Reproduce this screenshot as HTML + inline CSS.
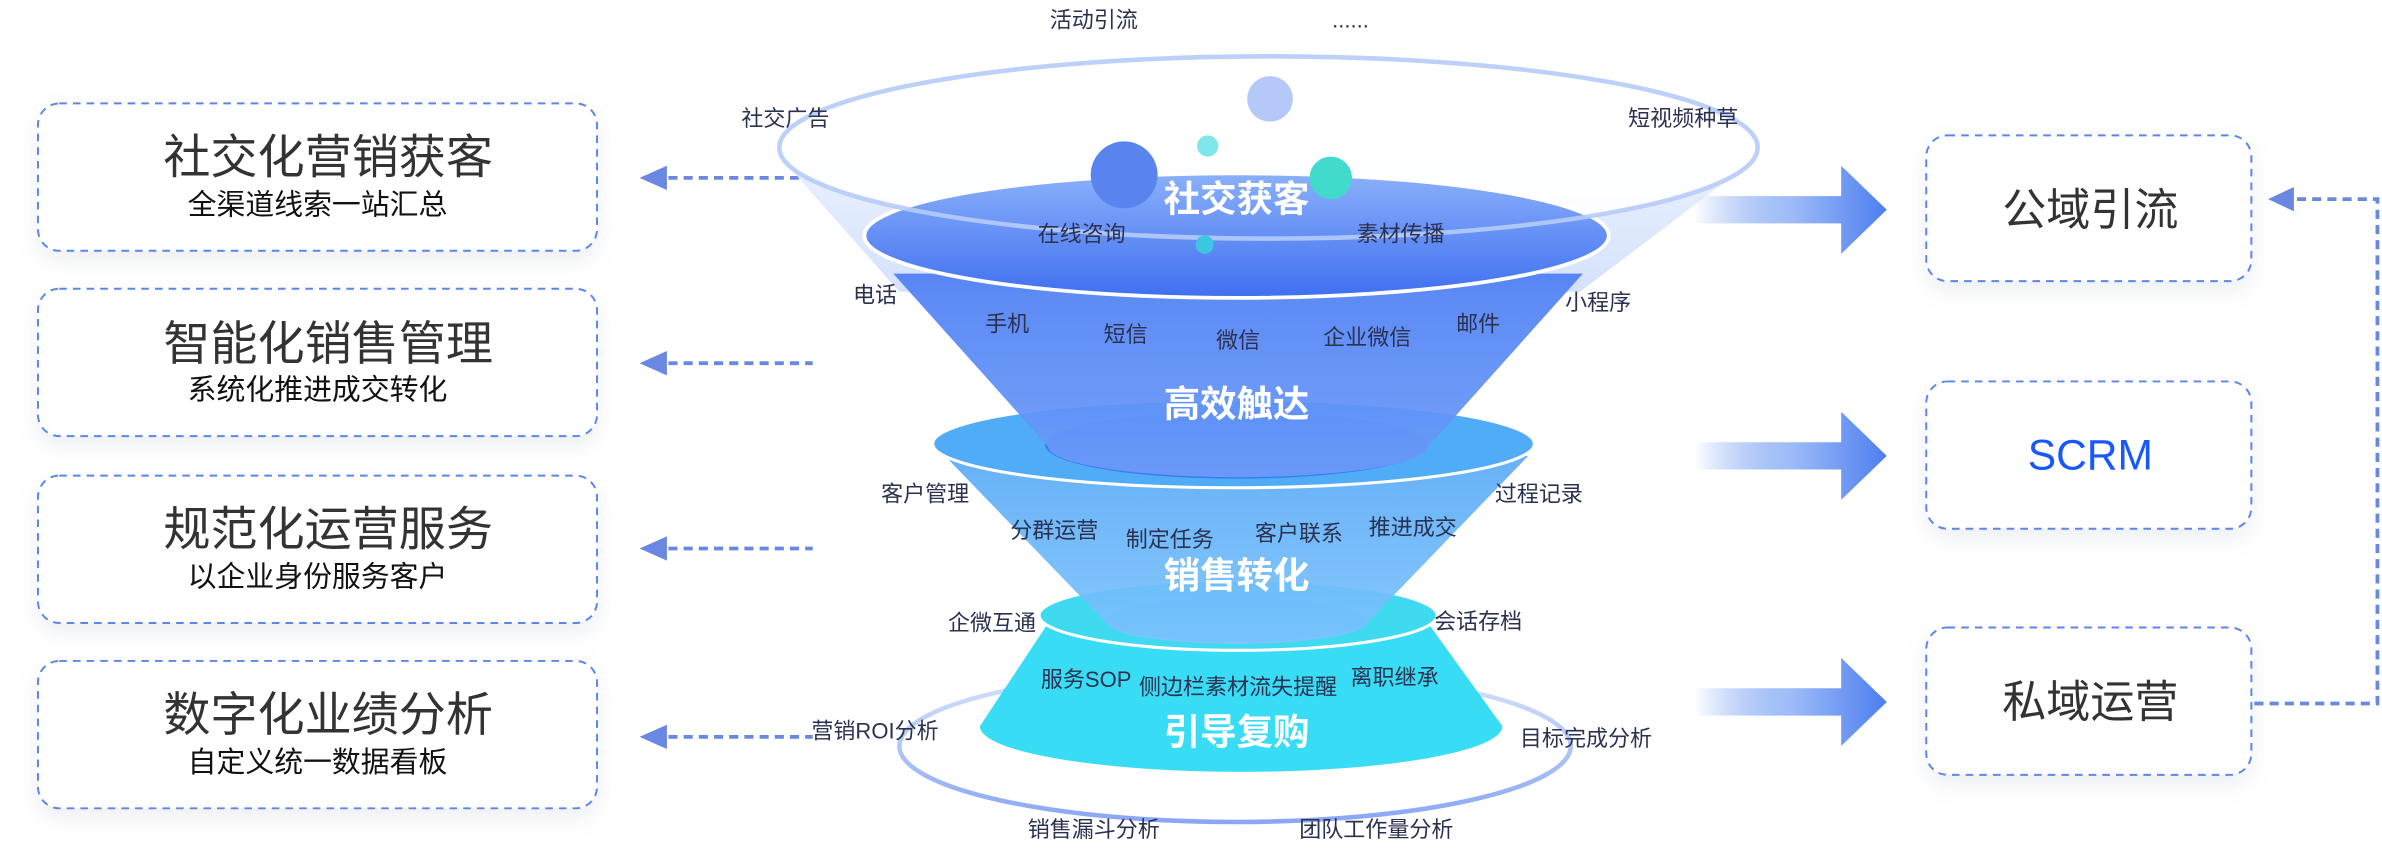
<!DOCTYPE html>
<html><head><meta charset="utf-8"><style>
html,body{margin:0;padding:0;background:#fff;}
svg{display:block;}
text{font-family:"Liberation Sans","Noto Sans CJK SC",sans-serif;}
</style></head><body>
<svg width="2382" height="854" viewBox="0 0 1568 562" xmlns="http://www.w3.org/2000/svg">
<defs>
<filter id="sh" x="-10%" y="-20%" width="120%" height="150%"><feDropShadow dx="0" dy="6" stdDeviation="7" flood-color="#8090b0" flood-opacity="0.15"/></filter>
<linearGradient id="ar" x1="0" x2="1"><stop offset="0" stop-color="#5b8def" stop-opacity="0"/><stop offset="0.5" stop-color="#9ebcf8"/><stop offset="1" stop-color="#4d7ef0"/></linearGradient>
<linearGradient id="e1" x1="0" y1="0" x2="0" y2="1"><stop offset="0" stop-color="#8ab0fa"/><stop offset="1" stop-color="#3f6ff0"/></linearGradient>
<linearGradient id="c1" x1="0" y1="0" x2="0" y2="1"><stop offset="0" stop-color="#4e7ff3"/><stop offset="1" stop-color="#6c9cfa"/></linearGradient>
<linearGradient id="c2" x1="0" y1="0" x2="0" y2="1"><stop offset="0" stop-color="#5aaaf7"/><stop offset="1" stop-color="#7cc4fd"/></linearGradient>
<linearGradient id="top" x1="0" y1="0" x2="0" y2="1"><stop offset="0" stop-color="#e3ecfd"/><stop offset="1" stop-color="#c7d8fb"/></linearGradient>
<linearGradient id="ring" x1="0" y1="0" x2="0" y2="1"><stop offset="0" stop-color="#d8e4fc"/><stop offset="1" stop-color="#8aa6f5"/></linearGradient>
</defs>

<!-- left boxes -->
<g fill="#fff" stroke="#5b86ee" stroke-width="1.3" stroke-dasharray="5 4" filter="url(#sh)">
<rect x="25" y="68" width="368" height="97" rx="14"/>
<rect x="25" y="190" width="368" height="97" rx="14"/>
<rect x="25" y="313" width="368" height="97" rx="14"/>
<rect x="25" y="435" width="368" height="97" rx="14"/>
</g>
<g text-anchor="middle" fill="#333">
<text x="216" y="114" font-size="31">社交化营销获客</text>
<text x="209" y="141" font-size="19" fill="#111">全渠道线索一站汇总</text>
<text x="216" y="237" font-size="31">智能化销售管理</text>
<text x="209" y="263" font-size="19" fill="#111">系统化推进成交转化</text>
<text x="216" y="359" font-size="31">规范化运营服务</text>
<text x="209" y="386" font-size="19" fill="#111">以企业身份服务客户</text>
<text x="216" y="481" font-size="31">数字化业绩分析</text>
<text x="209" y="508" font-size="19" fill="#111">自定义统一数据看板</text>
</g>
<g stroke="#6a88e2" stroke-width="2.5" stroke-dasharray="6 4">
<line x1="440" y1="117" x2="535" y2="117"/>
<line x1="440" y1="239" x2="535" y2="239"/>
<line x1="440" y1="361" x2="535" y2="361"/>
<line x1="440" y1="485" x2="535" y2="485"/>
</g>
<g fill="#6a88e2">
<polygon points="421,117 439,109 439,125"/>
<polygon points="421,239 439,231 439,247"/>
<polygon points="421,361 439,353 439,369"/>
<polygon points="421,485 439,477 439,493"/>
</g>

<!-- right boxes -->
<g fill="#fff" stroke="#5b86ee" stroke-width="1.3" stroke-dasharray="5 4" filter="url(#sh)">
<rect x="1268" y="89" width="214" height="96" rx="14"/>
<rect x="1268" y="251" width="214" height="97" rx="14"/>
<rect x="1268" y="413" width="214" height="97" rx="14"/>
</g>
<g text-anchor="middle" font-size="29">
<text x="1376" y="148" fill="#333">公域引流</text>
<text x="1376" y="309" fill="#1758ff" font-size="28">SCRM</text>
<text x="1376" y="472" fill="#333">私域运营</text>
</g>
<g fill="url(#ar)">
<path d="M1115,129 H1212 V109 L1242,138 L1212,167 V147 H1115 Z"/>
<path d="M1115,291 H1212 V271 L1242,300 L1212,329 V309 H1115 Z"/>
<path d="M1115,453 H1212 V433 L1242,462 L1212,491 V471 H1115 Z"/>
</g>
<polyline points="1484,463 1565,463 1565,131 1510,131" fill="none" stroke="#6a88e2" stroke-width="2.5" stroke-dasharray="6 4"/>
<polygon points="1493,131 1510,123 1510,139" fill="#6a88e2"/>

<!-- funnel -->
<ellipse cx="813" cy="491" rx="221" ry="50" fill="none" stroke="url(#ring)" stroke-width="3"/>
<!-- top transparent cone (sides only) -->
<path d="M515,105 L592,192 L1040,192 L1155,105 Z" fill="url(#top)" opacity="0.75"/>
<ellipse cx="835" cy="97" rx="322" ry="60" fill="#fff" opacity="0.9"/>
<!-- bottom cyan trapezoid -->
<path d="M690,410 L645,478 A172,30 0 0 0 989,478 L940,410 Z" fill="#39dcf5"/>
<ellipse cx="815" cy="405" rx="131" ry="23" fill="#3fdaf0" stroke="#fff" stroke-width="2"/>
<ellipse cx="813" cy="408" rx="86" ry="14" fill="#3ab7f2"/>
<path d="M622,300 L730,412 A85,14 0 0 0 898,412 L1006,300 Z" fill="url(#c2)" opacity="0.92"/>
<ellipse cx="812" cy="292" rx="198" ry="29" fill="#50acf6" stroke="#fff" stroke-width="2"/>
<ellipse cx="814" cy="293" rx="126" ry="22" fill="#3a7bf1"/>
<path d="M588,180 L690,294 A125,20 0 0 0 940,294 L1042,180 Z" fill="url(#c1)" opacity="0.93"/>
<ellipse cx="814" cy="155" rx="245" ry="41" fill="url(#e1)" stroke="#fff" stroke-width="2.5"/>
<ellipse cx="835" cy="97" rx="322" ry="60" fill="none" stroke="#b6cbf8" stroke-width="3" opacity="0.9"/>
<circle cx="740" cy="115" r="22" fill="#5984ee"/>
<circle cx="836" cy="65" r="15" fill="#b5c9f8"/>
<circle cx="795" cy="96" r="7" fill="#7fe6ea"/>
<circle cx="876" cy="117" r="14" fill="#41dacb"/>
<circle cx="793" cy="161" r="6" fill="#3bc7df"/>

<g text-anchor="middle" fill="#fff" font-size="24" font-weight="bold">
<text x="814" y="139">社交获客</text>
<text x="814" y="274">高效触达</text>
<text x="814" y="387">销售转化</text>
<text x="814" y="490">引导复购</text>
</g>
<g text-anchor="middle" fill="#2b3150" font-size="14.5">
<text x="720" y="18">活动引流</text>
<text x="889" y="18">......</text>
<text x="517" y="83">社交广告</text>
<text x="1108" y="83">短视频种草</text>
<text x="712" y="159">在线咨询</text>
<text x="922" y="159">素材传播</text>
<text x="576" y="199">电话</text>
<text x="1052" y="204">小程序</text>
<text x="663" y="218">手机</text>
<text x="741" y="225">短信</text>
<text x="815" y="229">微信</text>
<text x="900" y="227">企业微信</text>
<text x="973" y="218">邮件</text>
<text x="609" y="330">客户管理</text>
<text x="1013" y="330">过程记录</text>
<text x="694" y="354">分群运营</text>
<text x="770" y="360">制定任务</text>
<text x="855" y="356">客户联系</text>
<text x="930" y="352">推进成交</text>
<text x="653" y="415">企微互通</text>
<text x="973" y="414">会话存档</text>
<text x="715" y="452">服务SOP</text>
<text x="815" y="457">侧边栏素材流失提醒</text>
<text x="918" y="451">离职继承</text>
<text x="576" y="486">营销ROI分析</text>
<text x="1044" y="491">目标完成分析</text>
<text x="720" y="551">销售漏斗分析</text>
<text x="906" y="551">团队工作量分析</text>
</g>
</svg>
</body></html>
